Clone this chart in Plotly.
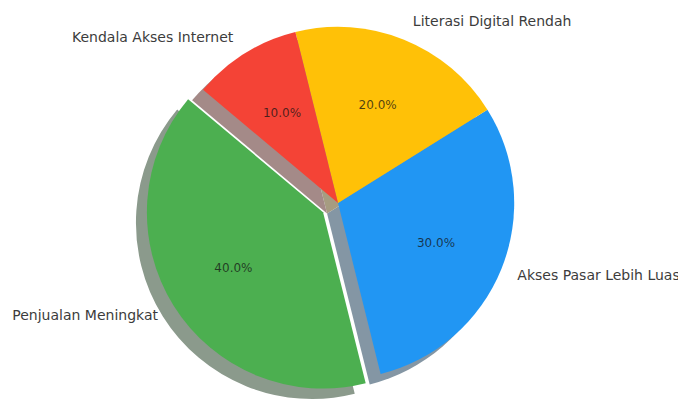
import math
import plotly.graph_objects as go

# ---- data ----
labels = ["Penjualan Meningkat", "Akses Pasar Lebih Luas",
          "Literasi Digital Rendah", "Kendala Akses Internet"]
values = [40, 30, 20, 10]
colors = ["#4CAF50", "#2196F3", "#FFC107", "#F44336"]
explode = [0.1, 0, 0, 0]

# ---- layout / style ----
START_ANGLE = 140          # degrees, counter-clockwise from 3 o'clock
W, H = 686, 400
# page -> photo mapping observed for this viewer
OFF_X, OFF_Y, SCALE = 16.0, 11.5, 0.99
CX = (337.5 - OFF_X) / SCALE
CY = (202.0 - OFF_Y) / SCALE
R = 177.0 / SCALE
SH_DX, SH_DY = -11.0 / SCALE, 10.5 / SCALE
LABEL_DIST, PCT_DIST = 1.1, 0.6
LABEL_PAD = 4.5            # plotly pads outside text horizontally
HOLE = 0.2
FONT = "DejaVu Sans"
CLEAR = "rgba(0,0,0,0)"
LABEL_COLOR = "#3c3c3c"
PCT_COLOR = "rgba(20,20,20,0.75)"

total = float(sum(values))
n = len(values)
rotation = 90 - START_ANGLE - 360 * values[0] / total
rotation = (rotation + 180) % 360 - 180

mids = []
acc = 0
for v in values:
    mids.append(math.radians(START_ANGLE + 360 * (acc + v / 2) / total))
    acc += v


def centre(i):
    e = explode[i] * R
    return CX + e * math.cos(mids[i]), CY - e * math.sin(mids[i])


def dom(cx, cy, half):
    return dict(x=[max(0, (cx - half) / W), min(1, (cx + half) / W)],
                y=[max(0, 1 - (cy + half) / H), min(1, 1 - (cy - half) / H)])


def fit(cx, cy, half):
    return min(half, H - cy - 0.5, cy - 0.5, cx - 0.5, W - cx - 0.5)


def shade(hexc):
    rgb = [int(hexc[k:k + 2], 16) for k in (1, 3, 5)]
    return "rgb(%d,%d,%d)" % tuple(round(127.5 + 0.15 * c) for c in rgb)


def pie(colors_, domain, **kw):
    base = dict(labels=labels, values=values, sort=False,
                direction="counterclockwise", rotation=rotation,
                showlegend=False, hoverinfo="skip", textinfo="none",
                domain=domain,
                marker=dict(colors=colors_, line=dict(width=0)))
    base.update(kw)
    return go.Pie(**base)


fig = go.Figure()
exploded = [i for i in range(n) if explode[i]]

# shadows (drawn first, below every wedge)
fig.add_trace(pie([CLEAR if explode[i] else shade(colors[i]) for i in range(n)],
                  dom(CX + SH_DX, CY + SH_DY, R)))
for i in exploded:
    ex, ey = centre(i)
    fig.add_trace(pie([shade(colors[j]) if j == i else CLEAR for j in range(n)],
                      dom(ex + SH_DX, ey + SH_DY, R)))

# wedges
fig.add_trace(pie([CLEAR if explode[i] else colors[i] for i in range(n)],
                  dom(CX, CY, R)))
for i in exploded:
    ex, ey = centre(i)
    fig.add_trace(pie([colors[j] if j == i else CLEAR for j in range(n)],
                      dom(ex, ey, R)))

# percentage texts
for i in range(n):
    s = math.sin(math.pi * values[i] / total)
    r_center = 1 - min(s / (1 + s), (1 - HOLE) / 2)
    cx, cy = centre(i)
    txt = ["%.1f%%" % (100 * v / total) if j == i else "" for j, v in enumerate(values)]
    fig.add_trace(pie([CLEAR] * n, dom(cx, cy, PCT_DIST * R / r_center),
                      hole=HOLE, text=txt, textinfo="text", textposition="inside",
                      insidetextorientation="horizontal",
                      insidetextfont=dict(family=FONT, size=12, color=PCT_COLOR)))

# category labels
r_lab = LABEL_DIST * R - LABEL_PAD
txt = ["" if explode[j] else labels[j] for j in range(n)]
fig.add_trace(pie([CLEAR] * n, dom(CX, CY, fit(CX, CY, r_lab)),
                  text=txt, textinfo="text", textposition="outside",
                  outsidetextfont=dict(family=FONT, size=14, color=LABEL_COLOR)))
for i in exploded:
    cx, cy = centre(i)
    txt = [labels[j] if j == i else "" for j in range(n)]
    fig.add_trace(pie([CLEAR] * n, dom(cx, cy, fit(cx, cy, r_lab)),
                      text=txt, textinfo="text", textposition="outside",
                      outsidetextfont=dict(family=FONT, size=14, color=LABEL_COLOR)))

fig.update_layout(width=W, height=H, margin=dict(l=0, r=0, t=0, b=0),
                  paper_bgcolor="white", plot_bgcolor="white",
                  font=dict(family=FONT))
fig.write_html("out.html")
